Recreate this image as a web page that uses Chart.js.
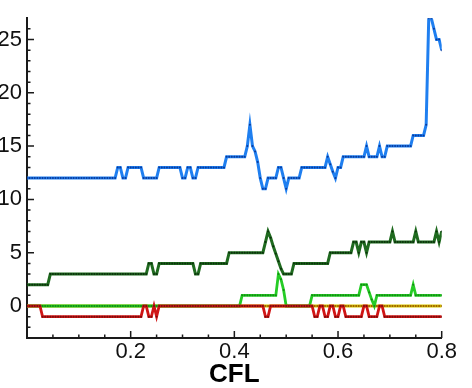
<!DOCTYPE html>
<html>
<head>
<meta charset="utf-8">
<script src="https://cdn.jsdelivr.net/npm/chart.js@4.4.1/dist/chart.umd.min.js"></script>
<style>
  html, body { margin: 0; padding: 0; background: #fff; overflow: hidden; }
  canvas { display: block; }
</style>
</head>
<body>
<canvas id="c" width="472" height="388"></canvas>
<script>
// CFL sample points (x axis)
const cfl = [
  0,0.005,0.01,0.015,0.02,0.025,0.03,0.035,0.04,0.045,
  0.05,0.055,0.06,0.065,0.07,0.075,0.08,0.085,0.09,0.095,
  0.1,0.105,0.11,0.115,0.12,0.125,0.13,0.135,0.14,0.145,
  0.15,0.155,0.16,0.165,0.17,0.175,0.18,0.185,0.19,0.195,
  0.2,0.205,0.21,0.215,0.22,0.225,0.23,0.235,0.24,0.245,
  0.25,0.255,0.26,0.265,0.27,0.275,0.28,0.285,0.29,0.295,
  0.3,0.305,0.31,0.315,0.32,0.325,0.33,0.335,0.34,0.345,
  0.35,0.355,0.36,0.365,0.37,0.375,0.38,0.385,0.39,0.395,
  0.4,0.405,0.41,0.415,0.42,0.425,0.43,0.435,0.44,0.445,
  0.45,0.455,0.46,0.465,0.47,0.475,0.48,0.485,0.49,0.495,
  0.5,0.505,0.51,0.515,0.52,0.525,0.53,0.535,0.54,0.545,
  0.55,0.555,0.56,0.565,0.57,0.575,0.58,0.585,0.59,0.595,
  0.6,0.605,0.61,0.615,0.62,0.625,0.63,0.635,0.64,0.645,
  0.65,0.655,0.66,0.665,0.67,0.675,0.68,0.685,0.69,0.695,
  0.7,0.705,0.71,0.715,0.72,0.725,0.73,0.735,0.74,0.745,
  0.75,0.755,0.76,0.765,0.77,0.775,0.78,0.785,0.79,0.795,
  0.8
];

const seriesBlue = [
  12,12,12,12,12,12,12,12,12,12,
  12,12,12,12,12,12,12,12,12,12,
  12,12,12,12,12,12,12,12,12,12,
  12,12,12,12,12,13,13,12,12,13,
  13,13,13,13,13,12,12,12,12,12,
  12,13,13,13,13,13,13,13,13,13,
  12,12,13,13,12,12,13,13,13,13,
  13,13,13,13,13,13,13,14,14,14,
  14,14,14,14,14,15,17,15,14.5,13.5,
  12,11,11,12,12,12,12,13,13,12,
  11,12,12,12,12,12,13,13,13,13,
  13,13,13,13,13,13,14,13.3,12.6,12,
  13,13,14,14,14,14,14,14,14,14,
  14,15,14,14,14,14,15,14,14,15,
  15,15,15,15,15,15,15,15,15,16,
  16,16,16,16,17,27,27,26,25,25,
  24
];

const seriesDarkGreen = [
  2,2,2,2,2,2,2,2,2,3,
  3,3,3,3,3,3,3,3,3,3,
  3,3,3,3,3,3,3,3,3,3,
  3,3,3,3,3,3,3,3,3,3,
  3,3,3,3,3,3,3,4,4,3,
  3,4,4,4,4,4,4,4,4,4,
  4,4,4,4,4,3,3,4,4,4,
  4,4,4,4,4,4,4,4,5,5,
  5,5,5,5,5,5,5,5,5,5,
  5,5,6,7,6.4,5.6,4.9,4.2,3.5,3,
  3,3,3,4,4,4,4,4,4,4,
  4,4,4,4,4,4,4,5,5,5,
  5,5,5,5,5,5,6,6,5,6,
  6,5,6,6,6,6,6,6,6,6,
  6,7,6,6,6,6,6,6,6,6,
  7,6,6,6,6,6,6,6,7,6,
  7
];

const seriesLightGreen = [
  0,0,0,0,0,0,0,0,0,0,
  0,0,0,0,0,0,0,0,0,0,
  0,0,0,0,0,0,0,0,0,0,
  0,0,0,0,0,0,0,0,0,0,
  0,0,0,0,0,0,0,0,0,0,
  0,0,0,0,0,0,0,0,0,0,
  0,0,0,0,0,0,0,0,0,0,
  0,0,0,0,0,0,0,0,0,0,
  0,0,0,1,1,1,1,1,1,1,
  1,1,1,1,1,1,1,3,2.5,1.5,
  0,0,0,0,0,0,0,0,0,0,
  1,1,1,1,1,1,1,1,1,1,
  1,1,1,1,1,1,1,1,1,2,
  2,2,1.3,0.6,0,1,1,1,1,1,
  1,1,1,1,1,1,1,1,1,2,
  1,1,1,1,1,1,1,1,1,1,
  1
];

const seriesRed = [
  0,0,0,0,0,0,-1,-1,-1,-1,
  -1,-1,-1,-1,-1,-1,-1,-1,-1,-1,
  -1,-1,-1,-1,-1,-1,-1,-1,-1,-1,
  -1,-1,-1,-1,-1,-1,-1,-1,-1,-1,
  -1,-1,-1,-1,-1,0,0,-1,-1,0,
  -1,0,0,0,0,0,0,0,0,0,
  0,0,0,0,0,0,0,0,0,0,
  0,0,0,0,0,0,0,0,0,0,
  0,0,0,0,0,0,0,0,0,0,
  0,0,-1,-1,0,0,0,0,0,0,
  0,0,0,0,0,0,0,0,0,0,
  0,-1,-1,0,0,-1,-1,0,0,-1,
  -1,0,0,-1,-1,-1,-1,-1,-1,-1,
  0,0,-1,-1,-1,-1,0,0,-1,-1,
  -1,-1,-1,-1,-1,-1,-1,-1,-1,-1,
  -1,-1,-1,-1,-1,-1,-1,-1,-1,-1,
  -1
];

const seriesYellow = [
  0,0,0,0,0,0,0,0,0,0,
  0,0,0,0,0,0,0,0,0,0,
  0,0,0,0,0,0,0,0,0,0,
  0,0,0,0,0,0,0,0,0,0,
  0,0,0,0,0,0,0,0,0,0,
  0,0,0,0,0,0,0,0,0,0,
  0,0,0,0,0,0,0,0,0,0,
  0,0,0,0,0,0,0,0,0,0,
  0,0,0,0,0,0,0,0,0,0,
  0,0,0,0,0,0,0,0,0,0,
  0,0,0,0,0,0,0,0,0,0,
  0,0,0,0,0,0,0,0,0,0,
  0,0,0,0,0,0,0,0,0,0,
  0,0,0,0,0,0,0,0,0,0,
  0,0,0,0,0,0,0,0,0,0,
  0,0,0,0,0,0,0,0,0,0,
  0
];

// Axis ticks
const xTickValues = [0.2, 0.4, 0.6, 0.8];
const yTickValues = [0, 5, 10, 15, 20, 25];
const xMinorStep = 0.05;
const yMinorStep = 1;

const FONT = "'Liberation Sans', Arial, Helvetica, sans-serif";
const AXIS_COLOR = '#1a1a1a';

function lineDataset(data, line, dots, width) {
  return {
    data,
    borderColor: line,
    borderWidth: width,
    pointRadius: 1,
    pointHoverRadius: 0,
    pointBorderWidth: 0,
    pointBackgroundColor: dots,
    tension: 0,
    fill: false
  };
}

// Tecplot-style inward tick marks along the left and bottom axes
const inwardTicks = {
  id: 'inwardTicks',
  beforeDatasetsDraw(chart) {
    const { ctx, chartArea: a, scales: { x, y } } = chart;
    ctx.save();
    ctx.strokeStyle = AXIS_COLOR;
    ctx.lineWidth = 1.5;
    ctx.beginPath();
    const nx = Math.round((x.max - x.min) / xMinorStep);
    for (let k = 1; k <= nx; k++) {
      const v = x.min + k * xMinorStep;
      const px = x.getPixelForValue(v);
      const major = xTickValues.some(t => Math.abs(t - v) < 1e-6);
      ctx.moveTo(px, a.bottom);
      ctx.lineTo(px, a.bottom - (major ? 7 : 3.5));
    }
    for (let v = Math.ceil(y.min) + 1; v < y.max; v += yMinorStep) {
      const py = y.getPixelForValue(v);
      const major = yTickValues.includes(v);
      ctx.moveTo(a.left, py);
      ctx.lineTo(a.left + (major ? 7 : 3.5), py);
    }
    ctx.stroke();
    ctx.restore();
  }
};

new Chart(document.getElementById('c'), {
  type: 'line',
  data: {
    labels: cfl,
    datasets: [
      lineDataset(seriesRed, '#d01515', '#7a0c0c', 2.8),
      lineDataset(seriesLightGreen, '#25cc25', '#138a13', 2.8),
      lineDataset(seriesYellow, '#d6c400', '#9a5a00', 2.8),
      lineDataset(seriesDarkGreen, '#1f6a1f', '#0c300c', 3),
      lineDataset(seriesBlue, '#1f7ff0', '#0a3a9c', 3)
    ]
  },
  options: {
    responsive: false,
    animation: false,
    devicePixelRatio: 1,
    layout: { padding: { top: 10, right: 30.3, bottom: 0, left: 0 } },
    plugins: { legend: { display: false }, tooltip: { enabled: false } },
    events: [],
    scales: {
      x: {
        type: 'linear',
        min: 0,
        max: 0.8,
        afterFit: s => { s.height = 50; },
        afterBuildTicks: s => { s.ticks = xTickValues.map(v => ({ value: v })); },
        grid: { display: false, drawTicks: false },
        border: { display: true, color: AXIS_COLOR, width: 2 },
        ticks: {
          padding: 1,
          maxRotation: 0,
          autoSkip: false,
          color: '#111',
          font: { family: FONT, size: 22, lineHeight: 1.2 },
          callback: v => String(v)
        },
        title: {
          display: true,
          text: 'CFL',
          color: '#000',
          padding: { top: 0, bottom: 0 },
          font: { family: FONT, size: 26, weight: 'bold', lineHeight: 1 }
        }
      },
      y: {
        type: 'linear',
        min: -3,
        max: 27,
        afterFit: s => { s.width = 27; },
        afterBuildTicks: s => { s.ticks = yTickValues.map(v => ({ value: v })); },
        grid: { display: false, drawTicks: false },
        border: { display: true, color: AXIS_COLOR, width: 2 },
        ticks: {
          padding: 5,
          color: '#111',
          font: { family: FONT, size: 22, lineHeight: 1.2 },
          callback: v => String(v)
        }
      }
    }
  },
  plugins: [inwardTicks]
});
</script>
</body>
</html>
